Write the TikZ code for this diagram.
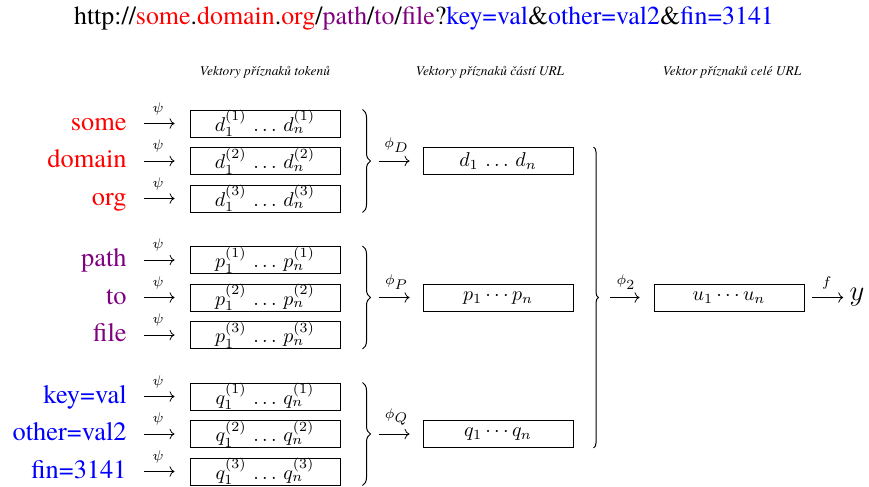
\documentclass[tikz,border=0pt]{standalone}
\usepackage{amsmath}
\usepackage[no-math]{fontspec}
\setmainfont{TeX Gyre Termes}
\usetikzlibrary{arrows.meta,positioning,calc,decorations.pathreplacing}
\definecolor{DomainRed}{RGB}{255,0,0}
\definecolor{PathPurple}{RGB}{128,0,128}
\definecolor{QueryBlue}{RGB}{0,0,255}
\tikzset{>={Computer Modern Rightarrow},
 vec/.style={draw,line width=.5pt,minimum width=75pt,minimum height=13.5pt,inner sep=0pt},
 token/.style={anchor=east,inner sep=0pt,font=\fontsize{13.2}{15}\selectfont,
  text height=9.2pt,text depth=2.6pt},
 head/.style={font=\fontsize{6.7}{8}\selectfont\itshape},
 map/.style={->,line width=.4pt},
 maplab/.style={above=4pt,inner sep=0pt,font=\scriptsize},
 grp/.style={decorate,decoration={brace,amplitude=#1},line width=.5pt},grp/.default=4pt}
\begin{document}
\begin{tikzpicture}[x=.5pt,y=-.5pt]
\useasboundingbox (0,0) rectangle (869,487);
\node[font=\fontsize{12.95}{15}\selectfont] (url) at (424,18) {http://\textcolor{DomainRed}{some}.\textcolor{DomainRed}{domain}.\textcolor{DomainRed}{org}/\textcolor{PathPurple}{path}/\textcolor{PathPurple}{to}/\textcolor{PathPurple}{file}?\textcolor{QueryBlue}{key=val}\&\textcolor{QueryBlue}{other=val2}\&\textcolor{QueryBlue}{fin=3141}};
\node[head] (h-tok) at (265,72) {Vektory příznaků tokenů};
\node[head] (h-part) at (490,72) {Vektory příznaků částí URL};
\node[head] (h-url) at (732,72) {Vektor příznaků celé URL};
\foreach \g/\col/\sym/\labs in {0/DomainRed/d/{some,domain,org},1/PathPurple/p/{path,to,file},2/QueryBlue/q/{key=val,other=val2,fin=3141}}
 \foreach \lab [count=\r] in \labs {
  \pgfmathsetmacro\yy{123.5+136.5*\g+37.5*(\r-1)}
  \node[token,text=\col] (tok-\g-\r) at (127,\yy) {\lab};
  \node[vec] (vec-\g-\r) at (265,\yy) {$\sym_1^{(\r)}\,\ldots\,\sym_n^{(\r)}$};
  \draw[map,shorten <=8.5pt,shorten >=7.5pt] (tok-\g-\r) -- node[maplab]{$\psi$} (vec-\g-\r);
 }
\foreach \g/\sub/\seq in {0/D/{d_1\,\ldots\,d_n},1/P/{p_1\cdots p_n},2/Q/{q_1\cdots q_n}} {
 \coordinate (gt-\g) at ($(vec-\g-1.north east)+(11pt,0)$);
 \coordinate (gb-\g) at ($(vec-\g-3.south east)+(11pt,0)$);
 \draw[grp] (gt-\g) -- (gb-\g);
 \coordinate (gtip-\g) at ($(gt-\g)!.5!(gb-\g)+(4pt,0)$);
 \node[vec] (part-\g) at ($(vec-\g-2)+(233,0)$) {$\seq$};
 \draw[map,shorten <=4pt,shorten >=6.5pt] (gtip-\g) -- node[maplab]{$\phi_{\textstyle\sub}$} (part-\g);
}
\coordinate (all-t) at ($(part-0.north east)+(10pt,0)$);
\coordinate (all-b) at ($(part-2.south east)+(10pt,0)$);
\draw[grp=2.5pt] (all-t) -- (all-b);
\coordinate (all-tip) at ($(all-t)!.5!(all-b)+(2.5pt,0)$);
\node[vec] (whole) at ($(part-1)+(231,0)$) {$u_1\cdots u_n$};
\draw[map,shorten <=5.5pt,shorten >=7pt] (all-tip) -- node[maplab]{$\phi_{\textstyle 2}$} (whole);
\node[inner sep=0pt,font=\fontsize{14.4}{16}\selectfont] (y) at (857,297.5) {$y$};
\draw[map,shorten <=3.5pt,shorten >=3pt] (whole) -- node[maplab]{$f$} (y);
\end{tikzpicture}
\end{document}
